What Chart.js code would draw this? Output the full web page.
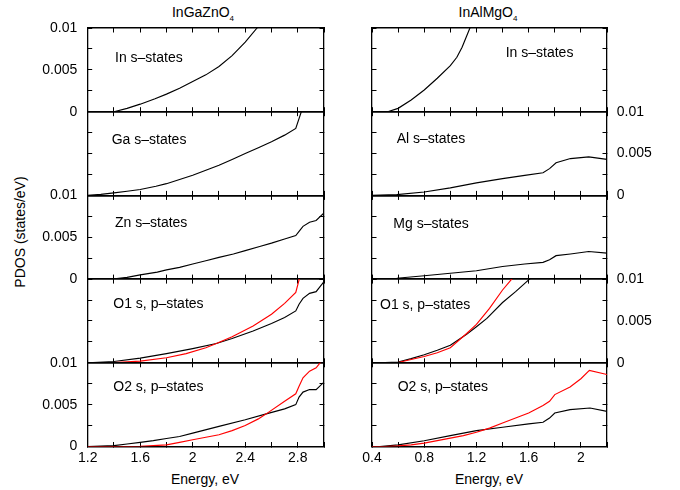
<!DOCTYPE html>
<html>
<head>
<meta charset="utf-8">
<script src="https://cdn.jsdelivr.net/npm/chart.js@4.4.1/dist/chart.umd.min.js"></script>
<style>
  html, body { margin: 0; padding: 0; background: #fff; }
  #wrap { position: relative; width: 680px; height: 490px; overflow: hidden; background: #fff;
          font-family: "Liberation Sans", Arial, Helvetica, sans-serif; color: #000; }
  #wrap canvas { position: absolute; left: 0; top: 0; }
  .t { position: absolute; white-space: nowrap; font-size: 14px; line-height: 1; }
  .c { transform: translate(-50%, -50%); }
  .l { transform: translateY(-50%); }
  .sub { font-size: 8px; position: relative; top: 4px; }
  .rot { transform: translate(-50%, -50%) rotate(-90deg); }
</style>
</head>
<body>
<div id="wrap">
  <div class="t c" style="left:203px; top:12px;">InGaZnO<span class="sub">4</span></div>
  <div class="t c" style="left:488px; top:12px;">InAlMgO<span class="sub">4</span></div>
  <div class="t rot" style="left:20px; top:232px;">PDOS (states/eV)</div>
  <div class="t c" style="left:205px; top:479px;">Energy, eV</div>
  <div class="t c" style="left:489px; top:479px;">Energy, eV</div>
</div>
<script>
// ---------- tick labels ----------
const energyTicksLeft  = ['1.2', '1.6', '2', '2.4', '2.8'];
const energyTicksRight = ['0.4', '0.8', '1.2', '1.6', '2'];
const pdosTicks        = ['0', '0.005', '0.01'];

// ---------- InGaZnO4 (left column) ----------
const igzoInE    = [1.2, 1.3, 1.4, 1.5, 1.6, 1.713, 1.8, 1.9, 2.0, 2.1, 2.2, 2.3, 2.4, 2.49, 2.52];
const igzoInS    = [0, 0, 0, 0.0004, 0.0009, 0.00155, 0.0021, 0.0028, 0.0036, 0.0044, 0.0054, 0.0067, 0.0083, 0.01, 0.0106];
const igzoGaE    = [1.2, 1.3, 1.4, 1.5, 1.6, 1.72, 1.8, 1.9, 2.0, 2.1, 2.2, 2.3, 2.4, 2.5, 2.6, 2.7, 2.785, 2.84];
const igzoGaS    = [0, 0.00012, 0.0003, 0.0005, 0.0007, 0.0011, 0.0014, 0.0019, 0.0024, 0.003, 0.0036, 0.0043, 0.005, 0.0057, 0.0064, 0.0072, 0.008, 0.0106];
const igzoZnE    = [1.2, 1.39, 1.5, 1.6, 1.73, 1.8, 1.9, 2.0, 2.1, 2.2, 2.31, 2.4, 2.51, 2.6, 2.7, 2.785, 2.81, 2.84, 2.89, 2.94, 3.0];
const igzoZnS    = [0, 0, 0.0002, 0.0005, 0.00084, 0.0011, 0.0014, 0.0018, 0.0022, 0.0026, 0.003, 0.0034, 0.0039, 0.0043, 0.0048, 0.0052, 0.0057, 0.0063, 0.0068, 0.007, 0.0079];
const igzoO1E    = [1.2, 1.4, 1.6, 1.8, 2.0, 2.18, 2.3, 2.46, 2.6, 2.7, 2.785, 2.81, 2.84, 2.89, 2.94, 3.0];
const igzoO1S    = [0, 0.00016, 0.00056, 0.0011, 0.0017, 0.0023, 0.0029, 0.0038, 0.0047, 0.0054, 0.0062, 0.007, 0.0077, 0.0083, 0.0085, 0.0097];
const igzoO1RedE = [1.2, 1.4, 1.6, 1.8, 1.95, 2.1, 2.18, 2.3, 2.46, 2.6, 2.7, 2.785, 2.815];
const igzoO1RedS = [0, 0.00003, 0.0002, 0.0006, 0.0011, 0.0018, 0.0023, 0.0031, 0.0044, 0.0058, 0.0071, 0.0084, 0.0102];
const igzoO2E    = [1.2, 1.4, 1.5, 1.6, 1.7, 1.8, 1.9, 2.0, 2.2, 2.4, 2.56, 2.7, 2.785, 2.81, 2.84, 2.89, 2.94, 3.0];
const igzoO2S    = [0, 0.0001, 0.0003, 0.0005, 0.0007, 0.00095, 0.0012, 0.0016, 0.0024, 0.0032, 0.0039, 0.0045, 0.005, 0.0059, 0.0065, 0.0068, 0.0068, 0.0077];
const igzoO2RedE = [1.2, 1.5, 1.6, 1.7, 1.8, 1.9, 2.0, 2.1, 2.2, 2.3, 2.4, 2.5, 2.56, 2.7, 2.785, 2.81, 2.84, 2.89, 2.94, 2.97, 3.0];
const igzoO2RedS = [0, 0, 0.00003, 0.0001, 0.0002, 0.0005, 0.0008, 0.0011, 0.0014, 0.0019, 0.0025, 0.0033, 0.0039, 0.0054, 0.0063, 0.0072, 0.0082, 0.009, 0.0094, 0.01, 0.0104];

// ---------- InAlMgO4 (right column) ----------
const iamoInE    = [0.4, 0.52, 0.6, 0.7, 0.8, 0.9, 1.0, 1.05, 1.09, 1.15, 1.17];
const iamoInS    = [0, 0, 0.0004, 0.0014, 0.0026, 0.004, 0.0055, 0.0065, 0.0077, 0.01, 0.0107];
const iamoAlE    = [0.4, 0.59, 0.8, 1.0, 1.2, 1.4, 1.57, 1.71, 1.76, 1.81, 1.92, 2.06, 2.2];
const iamoAlS    = [0, 0.0001, 0.0004, 0.0009, 0.0015, 0.002, 0.0024, 0.0027, 0.0032, 0.0039, 0.0044, 0.0046, 0.0043];
const iamoMgE    = [0.4, 0.59, 0.8, 1.0, 1.2, 1.4, 1.57, 1.71, 1.76, 1.81, 1.92, 2.06, 2.2];
const iamoMgS    = [0, 0.0001, 0.0004, 0.0007, 0.001, 0.0015, 0.0018, 0.002, 0.0023, 0.0028, 0.003, 0.0033, 0.0031];
const iamoO1E    = [0.4, 0.5, 0.6, 0.7, 0.8, 0.9, 1.0, 1.125, 1.2, 1.28, 1.4, 1.5, 1.6, 1.65];
const iamoO1S    = [0, 0.00002, 0.0001, 0.0005, 0.00096, 0.0015, 0.0021, 0.0034, 0.0043, 0.0053, 0.0072, 0.0085, 0.0099, 0.0106];
const iamoO1RedE = [0.4, 0.5, 0.6, 0.7, 0.8, 0.9, 1.0, 1.125, 1.2, 1.3, 1.4, 1.47, 1.5];
const iamoO1RedS = [0, 0, 0.00004, 0.0004, 0.00076, 0.0012, 0.0018, 0.0035, 0.0046, 0.0065, 0.0087, 0.01, 0.0107];
const iamoO2E    = [0.4, 0.46, 0.6, 0.8, 1.0, 1.2, 1.4, 1.6, 1.71, 1.76, 1.8, 1.917, 2.07, 2.2];
const iamoO2S    = [0, 0, 0.0002, 0.00068, 0.0013, 0.0019, 0.0023, 0.0027, 0.0029, 0.0034, 0.004, 0.0044, 0.0046, 0.0042];
const iamoO2RedE = [0.4, 0.5, 0.6, 0.7, 0.8, 0.9, 1.0, 1.1, 1.2, 1.3, 1.4, 1.5, 1.6, 1.71, 1.76, 1.8, 1.917, 2.0, 2.065, 2.2];
const iamoO2RedS = [0, 0, 0.00008, 0.0002, 0.0004, 0.0007, 0.001, 0.0013, 0.0017, 0.0022, 0.0028, 0.0034, 0.004, 0.0049, 0.0054, 0.0062, 0.0071, 0.0081, 0.0091, 0.0086];

// ---------- layout / style ----------
const BLACK = '#000000', RED = '#ff0000';
const COLS = [
  { left: 87.7, right: 324, min: 1.2, max: 3.0, ticks: energyTicksLeft },
  { left: 372, right: 607, min: 0.4, max: 2.2, ticks: energyTicksRight }
];
const ROW_TOP = 28, ROW_H = 83.7;
const TL = 4.5;        // inward tick length
const YW = 50;         // reserved width for each y axis box
const XH = 25;         // reserved height for the bottom x axis box

const panels = [
  { col: 0, row: 0, label: 'In s\u2013states',    lx: 115,   ly: 56.5,  yl: true,  yr: false, series: [[igzoInE, igzoInS, BLACK]] },
  { col: 0, row: 1, label: 'Ga s\u2013states',    lx: 111.7, ly: 138.5, yl: false, yr: false, series: [[igzoGaE, igzoGaS, BLACK]] },
  { col: 0, row: 2, label: 'Zn s\u2013states',    lx: 115,   ly: 222,   yl: true,  yr: false, series: [[igzoZnE, igzoZnS, BLACK]] },
  { col: 0, row: 3, label: 'O1 s, p\u2013states', lx: 113.3, ly: 302.5, yl: false, yr: false, series: [[igzoO1E, igzoO1S, BLACK], [igzoO1RedE, igzoO1RedS, RED]] },
  { col: 0, row: 4, label: 'O2 s, p\u2013states', lx: 113.3, ly: 386,   yl: true,  yr: false, series: [[igzoO2E, igzoO2S, BLACK], [igzoO2RedE, igzoO2RedS, RED]] },
  { col: 1, row: 0, label: 'In s\u2013states',    lx: 505.7, ly: 52,    yl: false, yr: false, series: [[iamoInE, iamoInS, BLACK]] },
  { col: 1, row: 1, label: 'Al s\u2013states',    lx: 396.7, ly: 138,   yl: false, yr: true,  series: [[iamoAlE, iamoAlS, BLACK]] },
  { col: 1, row: 2, label: 'Mg s\u2013states',    lx: 393.3, ly: 223,   yl: false, yr: false, series: [[iamoMgE, iamoMgS, BLACK]] },
  { col: 1, row: 3, label: 'O1 s, p\u2013states', lx: 380,   ly: 303.5, yl: false, yr: true,  series: [[iamoO1E, iamoO1S, BLACK], [iamoO1RedE, iamoO1RedS, RED]] },
  { col: 1, row: 4, label: 'O2 s, p\u2013states', lx: 397.7, ly: 385.5, yl: false, yr: false, series: [[iamoO2E, iamoO2S, BLACK], [iamoO2RedE, iamoO2RedS, RED]] }
];

Chart.defaults.font.family = '"Liberation Sans", Arial, Helvetica, sans-serif';
Chart.defaults.font.size = 14;
Chart.defaults.color = '#000';

function fixedFit(size) {
  return function (s) {
    if (s.isHorizontal()) s.height = size; else s.width = size;
    s.paddingLeft = 0; s.paddingRight = 0; s.paddingTop = 0; s.paddingBottom = 0;
  };
}
function labelFor(v, list) {
  const f = list.find(t => Math.abs(parseFloat(t) - v) < 1e-9);
  return f === undefined ? '' : f;
}
function xAxis(pos, col, show, size) {
  return {
    type: 'linear', axis: 'x', position: pos, min: col.min, max: col.max,
    afterFit: fixedFit(size),
    border: { display: true, color: '#000', width: 1.6 },
    grid: { drawOnChartArea: false, drawTicks: true, tickLength: -TL, color: '#000', lineWidth: 1 },
    ticks: { display: show, stepSize: 0.2, autoSkip: false, maxRotation: 0, minRotation: 0,
             padding: 7.7, color: '#000', font: { size: 14 },
             callback: v => labelFor(v, col.ticks) }
  };
}
function yAxis(pos, show) {
  return {
    type: 'linear', axis: 'y', position: pos, min: 0, max: 0.01,
    afterFit: fixedFit(YW),
    border: { display: true, color: '#000', width: 1.3 },
    grid: { drawOnChartArea: false, drawTicks: true, tickLength: -TL, color: '#000', lineWidth: 1 },
    ticks: { display: show, stepSize: 0.0025, autoSkip: false, padding: pos === 'left' ? 14.9 : 14.2,
             color: '#000', font: { size: 14 },
             callback: v => labelFor(v, pdosTicks) }
  };
}

const wrap = document.getElementById('wrap');
panels.forEach(p => {
  const col = COLS[p.col];
  const top = ROW_TOP + p.row * ROW_H;
  const bottom = top + ROW_H;
  const cv = document.createElement('canvas');
  cv.width = 680; cv.height = 490;
  cv.style.width = '680px'; cv.style.height = '490px';
  wrap.appendChild(cv);

  const lab = document.createElement('div');
  lab.className = 't l';
  lab.style.left = p.lx + 'px';
  lab.style.top = p.ly + 'px';
  lab.textContent = p.label;
  wrap.appendChild(lab);

  new Chart(cv, {
    type: 'line',
    data: {
      datasets: p.series.map(([e, s, color]) => ({
        data: e.map((x, i) => ({ x: x, y: s[i] })),
        borderColor: color, borderWidth: 1.15, pointRadius: 0, tension: 0, fill: false
      })).reverse()
    },
    options: {
      responsive: false, animation: false, devicePixelRatio: 1, events: [],
      layout: { padding: {
        left: col.left - YW,
        right: 680 - col.right - YW,
        top: top,
        bottom: 490 - bottom - XH
      } },
      plugins: { legend: { display: false }, tooltip: { enabled: false }, title: { display: false } },
      scales: {
        x: xAxis('bottom', col, p.row === 4, XH),
        x2: xAxis('top', col, false, 0),
        y: yAxis('left', p.yl),
        y2: yAxis('right', p.yr)
      }
    }
  });
});
</script>
</body>
</html>
